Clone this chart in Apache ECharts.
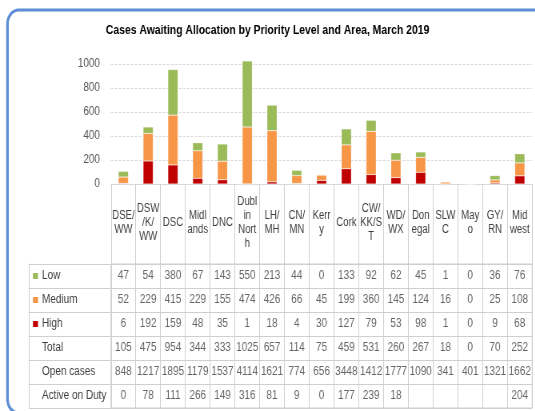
<!DOCTYPE html>
<html>
<head>
<meta charset="utf-8">
<script src="https://cdn.jsdelivr.net/npm/echarts@6/dist/echarts.min.js"></script>
<style>
  html, body { margin: 0; padding: 0; background: #fff; overflow: hidden; }
  /* the original table uses a narrow font, so the whole chart is drawn wider and squeezed */
  #chart { width: 669px; height: 411px; transform: scaleX(0.8); transform-origin: 0 0; }
</style>
</head>
<body>
<div id="chart"></div>
<script>
// areas (header labels keep the wrapped look of the original table)
const areas = ['DSE/\nWW', 'DSW\n/K/\nWW', 'DSC', 'Midl\nands', 'DNC', 'Dubl\nin\nNort\nh', 'LH/\nMH', 'CN/\nMN', 'Kerr\ny', 'Cork', 'CW/\nKK/S\nT', 'WD/\nWX', 'Don\negal', 'SLW\nC', 'May\no', 'GY/\nRN', 'Mid\nwest'];

const low    = [47, 54, 380, 67, 143, 550, 213, 44, 0, 133, 92, 62, 45, 1, 0, 36, 76];
const medium = [52, 229, 415, 229, 155, 474, 426, 66, 45, 199, 360, 145, 124, 16, 0, 25, 108];
const high   = [6, 192, 159, 48, 35, 1, 18, 4, 30, 127, 79, 53, 98, 1, 0, 9, 68];
const total  = [105, 475, 954, 344, 333, 1025, 657, 114, 75, 459, 531, 260, 267, 18, 0, 70, 252];
const openCases = [848, 1217, 1895, 1179, 1537, 4114, 1621, 774, 656, 3448, 1412, 1777, 1090, 341, 401, 1321, 1662];
const activeOnDuty = [0, 78, 111, 266, 149, 316, 81, 9, 0, 177, 239, 18, null, null, null, null, 204];

const rowNames = ['Low', 'Medium', 'High', 'Total', 'Open cases', 'Active on Duty'];
const yTicks = [0, 200, 400, 600, 800, 1000];

const colors = { Low: '#9BBB59', Medium: '#F79646', High: '#C00000' };
const font = "'Liberation Sans', Arial, sans-serif";
const lineCol = '#cfcfcf';
const sx = 0.8; // horizontal squeeze, see css

// table cells: [column, row, value]
const tableRows = [low, medium, high, total, openCases, activeOnDuty];
const cells = [];
tableRows.forEach((row, r) => {
  row.forEach((v, i) => {
    if (v !== null) cells.push([i, r, v]);
  });
});

const chart = echarts.init(document.getElementById('chart'));

let option;

option = {
  backgroundColor: '#fff',
  animation: false,
  title: {
    text: 'Cases Awaiting Allocation by Priority Level and Area, March 2019',
    left: 'center',
    top: 19,
    textStyle: { fontFamily: font, fontSize: 13, fontWeight: 'bold', color: '#000' }
  },
  graphic: [{
    type: 'rect',
    shape: { x: 7.5 / sx, y: 10, width: 800, height: 403, r: 14 },
    style: { fill: 'none', stroke: '#5B8ED6', lineWidth: 3.2 },
    silent: true
  }],
  grid: [
    { left: 111 / sx, right: 3 / sx, top: 64, height: 120 },
    { left: 111 / sx, right: 3 / sx, top: 264, height: 144, show: true, borderColor: lineCol, borderWidth: 1 }
  ],
  xAxis: [
    {
      type: 'category',
      gridIndex: 0,
      data: areas,
      axisLine: { lineStyle: { color: '#d9d9d9' } },
      axisTick: { show: true, length: 80, interval: 0, lineStyle: { color: lineCol } },
      axisLabel: {
        interval: 0, margin: 39, verticalAlign: 'middle',
        fontFamily: font, fontSize: 12, lineHeight: 14, color: '#404040'
      }
    },
    {
      type: 'category',
      gridIndex: 1,
      data: areas,
      axisLine: { show: false },
      axisTick: { show: false },
      axisLabel: { show: false },
      splitLine: { show: true, interval: 0, lineStyle: { color: lineCol } }
    }
  ],
  yAxis: [
    {
      type: 'value',
      gridIndex: 0,
      min: 0,
      max: 1000,
      interval: 200,
      axisLine: { show: false },
      axisTick: { show: false },
      axisLabel: {
        margin: 11 / sx, fontFamily: font, fontSize: 12.5, color: '#595959',
        formatter: v => (yTicks.includes(v) ? String(v) : '')
      },
      splitLine: { lineStyle: { color: '#d9d9d9', type: [3, 2] } }
    },
    {
      type: 'category',
      gridIndex: 1,
      inverse: true,
      data: rowNames,
      axisLine: { show: true, lineStyle: { color: lineCol } },
      axisTick: { show: true, length: 82 / sx, interval: 0, lineStyle: { color: lineCol } },
      splitLine: { show: true, interval: 0, lineStyle: { color: lineCol } },
      axisLabel: {
        interval: 0,
        align: 'left',
        margin: 78 / sx,
        formatter: name => {
          const key = colors[name] ? name.toLowerCase() : 'none';
          return '{' + key + '|}{t|' + name + '}';
        },
        rich: {
          low: { width: 5 / sx, height: 6, backgroundColor: colors.Low },
          medium: { width: 5 / sx, height: 6, backgroundColor: colors.Medium },
          high: { width: 5 / sx, height: 6, backgroundColor: colors.High },
          none: { width: 5 / sx, height: 6 },
          t: { padding: [0, 0, 0, 4 / sx], fontFamily: font, fontSize: 12.5, color: '#404040' }
        }
      }
    },
    {
      // left border of the table's label column
      type: 'category',
      gridIndex: 1,
      position: 'left',
      offset: 82 / sx,
      inverse: true,
      data: rowNames,
      axisLine: { show: true, lineStyle: { color: lineCol } },
      axisTick: { show: false },
      axisLabel: { show: false }
    }
  ],
  series: [
    {
      name: 'High', type: 'bar', stack: 'cases', data: high,
      xAxisIndex: 0, yAxisIndex: 0, barWidth: 10 / sx, clip: false,
      itemStyle: { color: colors.High, borderColor: 'rgba(255,255,255,0.5)', borderWidth: 0.5 }
    },
    {
      name: 'Medium', type: 'bar', stack: 'cases', data: medium,
      xAxisIndex: 0, yAxisIndex: 0, barWidth: 10 / sx, clip: false,
      itemStyle: { color: colors.Medium, borderColor: 'rgba(255,255,255,0.5)', borderWidth: 0.5 }
    },
    {
      name: 'Low', type: 'bar', stack: 'cases', data: low,
      xAxisIndex: 0, yAxisIndex: 0, barWidth: 10 / sx, clip: false,
      itemStyle: { color: colors.Low, borderColor: 'rgba(255,255,255,0.5)', borderWidth: 0.5 }
    },
    {
      name: 'table', type: 'scatter', data: cells,
      xAxisIndex: 1, yAxisIndex: 1,
      symbol: 'rect', symbolSize: 1,
      itemStyle: { color: 'rgba(0,0,0,0)' },
      label: {
        show: true, position: 'inside',
        formatter: p => String(p.value[2]),
        fontFamily: font, fontSize: 12.5, color: '#404040'
      },
      silent: true
    }
  ]
};

option && chart.setOption(option);
</script>
</body>
</html>
